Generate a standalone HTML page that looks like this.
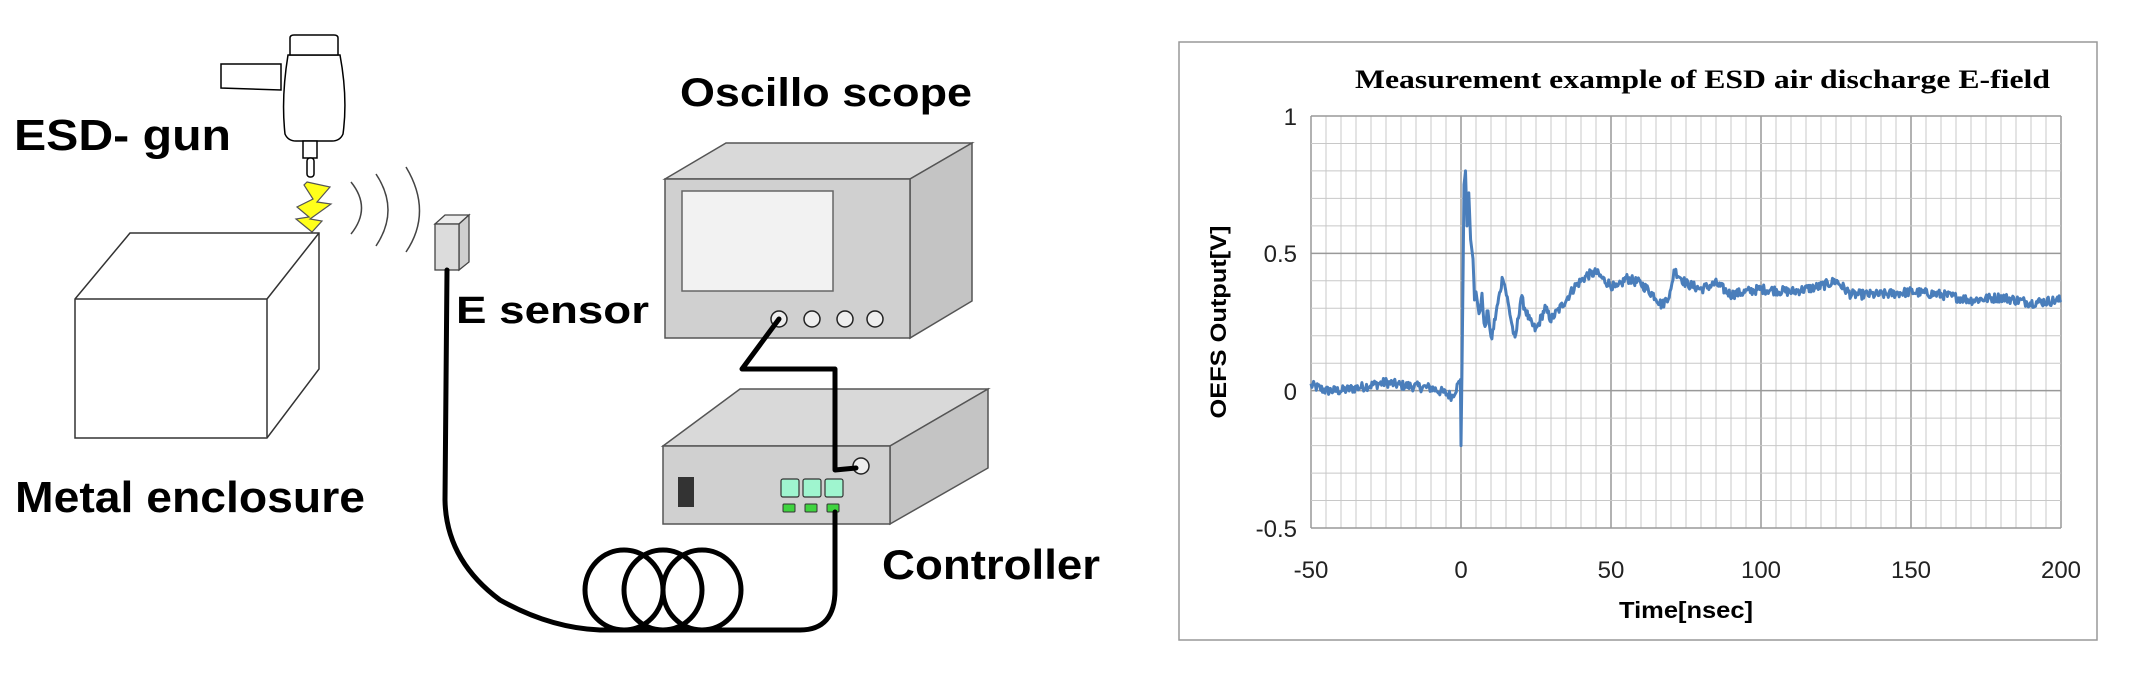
<!DOCTYPE html>
<html><head><meta charset="utf-8"><style>
html,body{margin:0;padding:0;background:#fff;}
svg{display:block;}
.lab{font-family:"Liberation Sans",sans-serif;fill:#000;font-weight:bold;}
</style></head><body>
<svg width="2130" height="680" viewBox="0 0 2130 680" xmlns="http://www.w3.org/2000/svg">
<text class="lab" x="14" y="150" font-size="44" textLength="217" lengthAdjust="spacingAndGlyphs">ESD- gun</text>
<text class="lab" x="15" y="512" font-size="44" textLength="350" lengthAdjust="spacingAndGlyphs">Metal enclosure</text>
<text class="lab" x="680" y="106" font-size="40" textLength="292" lengthAdjust="spacingAndGlyphs">Oscillo scope</text>
<text class="lab" x="456" y="323" font-size="38" textLength="193" lengthAdjust="spacingAndGlyphs">E sensor</text>
<text class="lab" x="882" y="579" font-size="42" textLength="218" lengthAdjust="spacingAndGlyphs">Controller</text>

<g stroke="#000" stroke-width="1.5" fill="#fff">
<path d="M221 64 L281 64 L281 90 L221 88 Z"/>
<path d="M288 55 Q281 98 285 134 Q288 141 296 141 L332 141 Q340 141 343 134 Q348 98 340 55 Z"/>
<path d="M290 55 L290 38 Q290 35 294 35 L334 35 Q338 35 338 38 L338 55 Z"/>
<rect x="303" y="141" width="14" height="17"/>
<rect x="307" y="158" width="7" height="19" rx="3"/>
</g>
<path d="M307 182 L330 187 L317 202 L331 204 L310 219 L322 221 L312 232 L296 219 L309 217 L297 207 L313 199 L304 185 Z" fill="#ffff1a" stroke="#555" stroke-width="1.2"/>
<g fill="none" stroke="#444" stroke-width="1.5">
<path d="M351 182 Q372 208 351 234"/>
<path d="M376 174 Q400 210 376 246"/>
<path d="M406 167 Q433 212 406 252"/>
</g>
<g stroke="#333" stroke-width="1.5" fill="#fff">
<path d="M75 299 L130 233 L319 233 L319 369 L267 438 L75 438 Z"/>
<path d="M75 299 L267 299 L267 438 M267 299 L319 233"/>
</g>
<g stroke="#444" stroke-width="1.3">
<path d="M435 224 L445 215 L469 215 L459 224 Z" fill="#ececec"/>
<path d="M459 224 L469 215 L469 262 L459 270 Z" fill="#cfcfcf"/>
<rect x="435" y="224" width="24" height="46" fill="#dcdcdc"/>
</g>
<g stroke="#555" stroke-width="1.5">
<path d="M665 179 L726 143 L972 143 L910 179 Z" fill="#d9d9d9"/>
<path d="M910 179 L972 143 L972 301 L910 338 Z" fill="#c4c4c4"/>
<rect x="665" y="179" width="245" height="159" fill="#d0d0d0"/>
<rect x="682" y="191" width="151" height="100" fill="#f2f2f2" stroke="#666"/>
</g>
<g fill="#eee" stroke="#222" stroke-width="1.5">
<ellipse cx="779" cy="319" rx="8" ry="8"/>
<ellipse cx="812" cy="319" rx="8" ry="8"/>
<ellipse cx="845" cy="319" rx="8" ry="8"/>
<ellipse cx="875" cy="319" rx="8" ry="8"/>
</g>
<g stroke="#555" stroke-width="1.5">
<path d="M663 446 L740 389 L988 389 L890 446 Z" fill="#d9d9d9"/>
<path d="M890 446 L988 389 L988 468 L890 524 Z" fill="#c4c4c4"/>
<rect x="663" y="446" width="227" height="78" fill="#d0d0d0"/>
</g>
<rect x="678" y="477" width="16" height="30" fill="#333"/>
<g fill="#9ff5cf" stroke="#333" stroke-width="1.2">
<rect x="781" y="479" width="18" height="18" rx="2"/>
<rect x="803" y="479" width="18" height="18" rx="2"/>
<rect x="825" y="479" width="18" height="18" rx="2"/>
</g>
<g fill="#3fd33f" stroke="#333" stroke-width="1">
<rect x="783" y="504" width="12" height="8" rx="1"/>
<rect x="805" y="504" width="12" height="8" rx="1"/>
<rect x="827" y="504" width="12" height="8" rx="1"/>
</g>
<ellipse cx="861" cy="466" rx="8" ry="8" fill="#eee" stroke="#222" stroke-width="1.5"/>
<g fill="none" stroke="#000" stroke-width="5" stroke-linejoin="round" stroke-linecap="round">
<path d="M779 319 L742 369 L835 369 L835 470 L856 468"/>
<path d="M447 270 L445 500 Q446 560 500 600 Q550 628 600 630 L800 630 Q835 630 835 590 L835 512"/>
<ellipse cx="624" cy="590" rx="39" ry="40"/>
<ellipse cx="663" cy="590" rx="39" ry="40"/>
<ellipse cx="702" cy="590" rx="39" ry="40"/>
</g>

<rect x="1179" y="42" width="918" height="598" fill="#fff" stroke="#999" stroke-width="1.5"/>
<text x="1355" y="88" font-family="Liberation Serif,serif" font-size="26" font-weight="bold" textLength="695" lengthAdjust="spacingAndGlyphs">Measurement example of ESD air discharge E-field</text>
<g id="grid"></g>
<g font-family="Liberation Sans,sans-serif" font-size="24" fill="#222" text-anchor="end">
<text x="1297" y="125">1</text>
<text x="1297" y="262">0.5</text>
<text x="1297" y="400">0</text>
<text x="1297" y="537">-0.5</text>
</g>
<g font-family="Liberation Sans,sans-serif" font-size="24" fill="#222" text-anchor="middle">
<text x="1311" y="578">-50</text>
<text x="1461" y="578">0</text>
<text x="1611" y="578">50</text>
<text x="1761" y="578">100</text>
<text x="1911" y="578">150</text>
<text x="2061" y="578">200</text>
</g>
<text x="1686" y="618" font-family="Liberation Sans,sans-serif" font-size="23" font-weight="bold" text-anchor="middle" textLength="134" lengthAdjust="spacingAndGlyphs">Time[nsec]</text>
<text transform="translate(1226,322) rotate(-90)" font-family="Liberation Sans,sans-serif" font-size="22" font-weight="bold" text-anchor="middle" textLength="193" lengthAdjust="spacingAndGlyphs">OEFS Output[V]</text>
<polyline id="curve" fill="none" stroke="#4a7ebb" stroke-width="3" stroke-linejoin="round" points=""/>
</svg>
<script>
(function(){
var ns="http://www.w3.org/2000/svg",g=document.getElementById("grid");
function X(t){return 1311+(t+50)*3;}
function Y(v){return 528-(v+0.5)*274.67;}
function line(x1,y1,x2,y2,c,w){var l=document.createElementNS(ns,"line");l.setAttribute("x1",x1);l.setAttribute("y1",y1);l.setAttribute("x2",x2);l.setAttribute("y2",y2);l.setAttribute("stroke",c);l.setAttribute("stroke-width",w);g.appendChild(l);}
for(var t=-50;t<=200;t+=5){var maj=(t%50==0);line(X(t),116,X(t),528,maj?"#999":"#c8c8c8",maj?1.5:1);}
for(var i=0;i<=15;i++){var v=-0.5+i*0.1;var maj=(i%5==0);line(1311,Y(v),2061,Y(v),maj?"#999":"#c8c8c8",maj?1.5:1);}
var k=[[-50,0.02],[-45,0.0],[-40,0.0],[-30,0.02],[-25,0.03],[-20,0.02],[-10,0.01],[-5,-0.01],[-3,-0.02],[-1,0.02],[-0.2,0.04],[0,-0.2],[0.3,0.05],[1,0.75],[1.5,0.8],[2,0.6],[2.6,0.72],[3.2,0.55],[4,0.48],[4.5,0.33],[5,0.36],[6,0.28],[7,0.34],[8,0.22],[9,0.3],[10,0.18],[12,0.3],[14,0.42],[16,0.3],[18,0.18],[20,0.34],[23,0.25],[25,0.22],[28,0.3],[30,0.26],[33,0.3],[38,0.38],[42,0.42],[45,0.43],[48,0.4],[52,0.37],[55,0.41],[60,0.39],[65,0.34],[67,0.31],[70,0.36],[71,0.44],[75,0.39],[80,0.37],[85,0.39],[90,0.35],[95,0.36],[100,0.37],[110,0.36],[120,0.38],[125,0.4],[130,0.35],[140,0.35],[150,0.36],[160,0.35],[170,0.33],[180,0.34],[190,0.32],[200,0.33]];
var s=12345;function r(){s=(s*1103515245+12345)%2147483648;return s/2147483648-0.5;}
var pts=[];
for(var i=0;i<k.length-1;i++){var a=k[i],b=k[i+1];var n=Math.max(1,Math.round((b[0]-a[0])/0.3));
for(var j=0;j<n;j++){var f=j/n;var t=a[0]+(b[0]-a[0])*f;var v=a[1]+(b[1]-a[1])*f;if(t<-0.3||t>6)v+=r()*0.035;pts.push(X(t).toFixed(1)+","+Y(v).toFixed(1));}}
pts.push(X(200)+","+Y(0.33));
document.getElementById("curve").setAttribute("points",pts.join(" "));
})();
</script>
</body></html>
